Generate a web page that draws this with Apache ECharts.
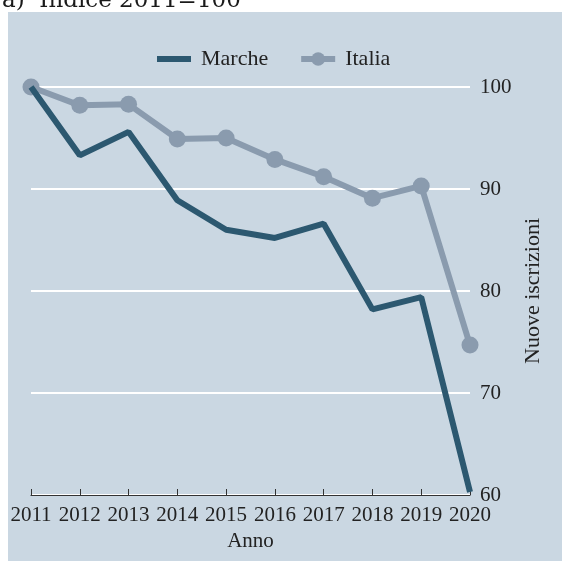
<!DOCTYPE html>
<html>
<head>
<meta charset="utf-8">
<script src="https://cdn.jsdelivr.net/npm/echarts@6/dist/echarts.min.js"></script>
<style>
html,body{margin:0;padding:0;background:#fff;}
#c{width:562px;height:561px;}
</style>
</head>
<body>
<div id="c"></div>
<script>
var years = ['2011','2012','2013','2014','2015','2016','2017','2018','2019','2020'];
var marche = [100, 93.3, 95.6, 88.9, 86.0, 85.2, 86.6, 78.2, 79.4, 60.3];
var italia = [100, 98.2, 98.3, 94.9, 95.0, 92.9, 91.2, 89.1, 90.3, 74.7];
var yTicks = [60, 70, 80, 90, 100];

var serif = '"Liberation Serif", "Times New Roman", serif';
var chart = echarts.init(document.getElementById('c'), null, {renderer: 'canvas'});
chart.setOption({
  backgroundColor: '#ffffff',
  animation: false,
  graphic: [
    {type: 'rect', z: -10, shape: {x: 8, y: 12, width: 554, height: 549}, style: {fill: '#cad7e2'}},
    {type: 'text', left: 2, top: -10, style: {text: 'a)  Indice 2011=100', font: '23px "DejaVu Serif", serif', fill: '#1a1a1a'}}
  ],
  legend: {
    top: 43,
    left: 152,
    itemWidth: 34,
    itemHeight: 17,
    itemGap: 30,
    symbolKeepAspect: true,
    textStyle: {fontFamily: serif, fontSize: 22, color: '#222', padding: [0, 0, 0, 5]},
    data: [
      {name: 'Marche', icon: 'path://M0,0 L34,0 L34,6 L0,6 Z'},
      {name: 'Italia', lineStyle: {width: 6}}
    ]
  },
  grid: {left: 31, right: 92, top: 87, bottom: 66},
  xAxis: {
    type: 'category',
    data: years,
    boundaryGap: false,
    name: 'Anno',
    nameLocation: 'middle',
    nameGap: 34,
    nameTextStyle: {fontFamily: serif, fontSize: 21, color: '#222'},
    axisLine: {show: true, onZero: false, lineStyle: {color: '#333', width: 1.2}},
    axisTick: {show: true, inside: true, length: 6, interval: 0, alignWithLabel: true, lineStyle: {color: '#333'}},
    axisLabel: {fontFamily: serif, fontSize: 21, color: '#222', margin: 10, interval: 0, hideOverlap: false},
    splitLine: {show: false}
  },
  yAxis: {
    type: 'value',
    position: 'right',
    min: 60,
    max: 100,
    interval: 10,
    name: 'Nuove iscrizioni',
    nameLocation: 'middle',
    nameRotate: 90,
    nameGap: 44,
    nameTextStyle: {fontFamily: serif, fontSize: 22, color: '#222'},
    axisLine: {show: false},
    axisTick: {show: false},
    axisLabel: {fontFamily: serif, fontSize: 21, color: '#222', margin: 10,
      formatter: function(v){ return yTicks.indexOf(v) >= 0 ? String(v) : ''; }},
    splitLine: {show: true, lineStyle: {color: '#ffffff', width: 2}}
  },
  series: [
    {
      name: 'Marche',
      type: 'line',
      data: marche,
      symbol: 'none',
      z: 3,
      lineStyle: {color: '#2c5870', width: 6},
      itemStyle: {color: '#2c5870'}
    },
    {
      name: 'Italia',
      type: 'line',
      data: italia,
      symbol: 'circle',
      symbolSize: 17,
      z: 2,
      lineStyle: {color: '#8a9bae', width: 6},
      itemStyle: {color: '#8a9bae'}
    }
  ]
});
</script>
</body>
</html>
